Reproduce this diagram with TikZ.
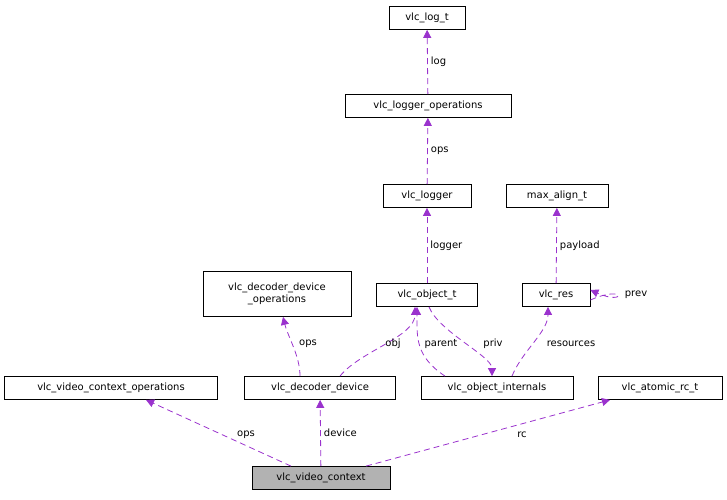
\documentclass[tikz,border=0pt]{standalone}
\usepackage{fontspec}
\setmainfont{DejaVu Sans}
\usetikzlibrary{arrows.meta}
\definecolor{edgepurple}{HTML}{9A32CD}
\begin{document}
\begin{tikzpicture}[x=1pt,y=-1pt,
	cls/.style={draw, rectangle, thick, inner sep=2pt, minimum height=23pt, font=\fontsize{10}{12}\selectfont, align=center},
	rel/.style={draw=edgepurple, dash pattern=on 6pt off 4pt, thick, -{Triangle[length=8pt,width=8pt,fill=edgepurple]}},
	lbl/.style={font=\fontsize{10}{12}\selectfont, inner sep=1pt}]
	\useasboundingbox (0,0) rectangle (727,499);

	\node[cls, minimum width=76pt] (log) at (427,18) {vlc\_log\_t};
	\node[cls, minimum width=166pt] (logops) at (428,106) {vlc\_logger\_operations};
	\node[cls, minimum width=88pt] (logger) at (427,196) {vlc\_logger};
	\node[cls, minimum width=102pt] (maxal) at (557,196) {max\_align\_t};
	\node[cls, minimum width=148pt, minimum height=45pt] (decops) at (277,294) {vlc\_decoder\_device\\\_operations};
	\node[cls, minimum width=101pt] (obj) at (427,295) {vlc\_object\_t};
	\node[cls, minimum width=68pt] (res) at (556,295) {vlc\_res};
	\node[cls, minimum width=213pt] (vcops) at (111,388) {vlc\_video\_context\_operations};
	\node[cls, minimum width=151pt] (decdev) at (320,388) {vlc\_decoder\_device};
	\node[cls, minimum width=152pt] (objint) at (497,388) {vlc\_object\_internals};
	\node[cls, minimum width=124pt] (rc) at (660,388) {vlc\_atomic\_rc\_t};
	\node[cls, minimum width=138pt, fill=gray!60] (vctx) at (321,478) {vlc\_video\_context};

	% logging chain
	\draw[rel] (logops) -- node[lbl, right=2pt] {log} (log);
	\draw[rel] (logger) -- node[lbl, right=2pt] {ops} (logops);
	\draw[rel] (obj) -- node[lbl, right=2pt] {logger} (logger);
	\draw[rel] (res) -- node[lbl, right=2pt] {payload} (maxal);
	\draw[rel] ([yshift=-5]res.east) .. controls +(36,-16) and +(36,16) .. ([yshift=5]res.east);
	\node[lbl] (prevlbl) at (636,295) {prev};

	% decoder device / object
	\draw[rel] ([xshift=-20]decdev.north) .. controls +(0,-20) and +(5,20) .. ([xshift=6]decops.south);
	\node[lbl] (opslbl) at (308,344) {ops};
	\draw[rel] ([xshift=20]decdev.north) .. controls +(20,-25) and +(0,30) .. ([xshift=-12]obj.south);
	\node[lbl] (objlbl) at (393,344) {obj};
	\draw[rel] ([xshift=-52]objint.north) .. controls +(-30,-20) and +(0,30) .. ([xshift=-10]obj.south);
	\node[lbl] (parentlbl) at (441,344) {parent};
	\draw[rel] ([xshift=2]obj.south) .. controls +(10,25) and +(0,-20) .. ([xshift=-5]objint.north);
	\node[lbl] (privlbl) at (493,344) {priv};
	\draw[rel] ([xshift=15]objint.north) .. controls +(10,-25) and +(0,25) .. ([xshift=-8]res.south);
	\node[lbl] (reslbl) at (571,344) {resources};

	% video context
	\draw[rel] ([xshift=-30]vctx.north) -- ([xshift=35]vcops.south);
	\node[lbl] (vcopslbl) at (246,435) {ops};
	\draw[rel] (vctx) -- node[lbl, right=2pt] {device} (decdev);
	\draw[rel] ([xshift=45]vctx.north) -- ([xshift=-50]rc.south);
	\node[lbl] (rclbl) at (522,435) {rc};
\end{tikzpicture}
\end{document}
